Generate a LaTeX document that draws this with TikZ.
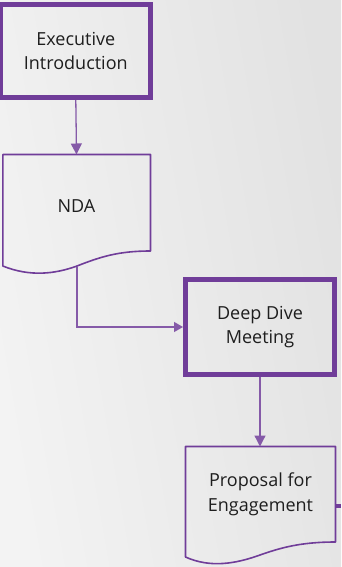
\documentclass[tikz,border=0pt]{standalone}
\usepackage{fontspec}
\setmainfont{Open Sans}
\usetikzlibrary{arrows.meta}
\definecolor{purp}{RGB}{112,61,153}
\definecolor{txt}{RGB}{30,30,30}
\definecolor{bgl}{RGB}{243,243,243}
\definecolor{bgr}{RGB}{226,226,226}
\begin{document}
\begin{tikzpicture}[x=1pt,y=-1pt,
  thickbox/.style={draw=purp,line width=5pt,inner sep=0pt,align=center,text=txt,font=\fontsize{18}{24.5}\selectfont},
  docline/.style={draw=purp,line width=1.6pt,line join=round},
  lbl/.style={align=center,text=txt,font=\fontsize{18}{24.5}\selectfont},
  conn/.style={draw=purp!85,line width=1.3pt,-{Triangle[length=11pt,width=11pt]}}]
\useasboundingbox (0,0) rectangle (341,567);
\shade[left color=bgl,right color=bgr,shading angle=100] (0,0) rectangle (341,567);
% Executive Introduction
\node[thickbox,minimum width=150pt,minimum height=93pt] (exec) at (75.8,51) {Executive\\Introduction};
% NDA document
\draw[docline] (2.8,266) -- (2.8,154.5) -- (150.5,154.5) -- (150.5,251)
  .. controls (118,251) and (100,257) .. (77,266)
  .. controls (55,274) and (30,277) .. cycle;
\node[lbl] (nda) at (76.5,206) {NDA};
\coordinate (ndatop) at (76.5,154.5);
\coordinate (ndabot) at (77,266.5);
% Deep Dive Meeting
\node[thickbox,minimum width=149pt,minimum height=95pt] (deep) at (260,327) {Deep Dive\\Meeting};
% Proposal document
\draw[docline] (185.5,557) -- (185.5,446.5) -- (335.5,446.5) -- (335.5,542)
  .. controls (300,542) and (280,548) .. (260,555)
  .. controls (235,564) and (210,568) .. cycle;
\node[lbl] (prop) at (260.5,494.5) {Proposal for\\Engagement};
\coordinate (proptop) at (260,446.5);
\coordinate (propright) at (335.5,506);
\coordinate (offright) at (341,506);
% connectors
\draw[conn] (exec.south) -- (ndatop);
\draw[conn,-{Triangle[length=9pt,width=10pt]}] (ndabot) |- (deep.west);
\draw[conn] (deep.south) -- (proptop);
\draw[draw=purp,line width=4.5pt] (propright) -- (offright);
\end{tikzpicture}
\end{document}
